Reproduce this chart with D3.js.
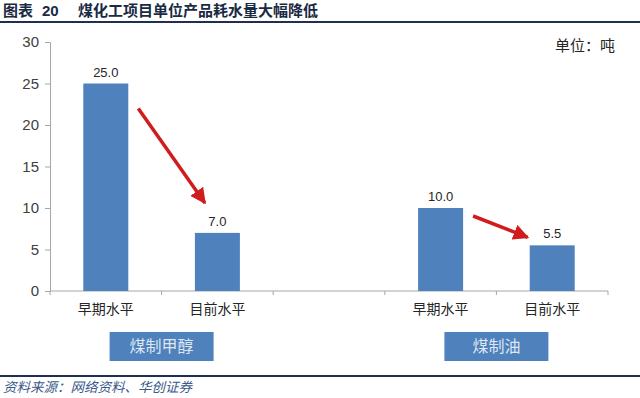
<!DOCTYPE html>
<html><head><meta charset="utf-8">
<script src="https://cdn.jsdelivr.net/npm/d3@7"></script>
<style>body{margin:0;background:#fff}svg{display:block;font-family:"Noto Sans CJK SC","Microsoft YaHei",sans-serif}</style>
</head><body><svg id="c" width="640" height="398"></svg>
<script>
const categories = ["早期水平","目前水平","","早期水平","目前水平"];
const catKeys = ["a1","a2","gap","b1","b2"];
const values = [25.0, 7.0, null, 10.0, 5.5];
const groups = [{name:"煤制甲醇", keys:["a1","a2"]},{name:"煤制油", keys:["b1","b2"]}];
const yTicks = [0,5,10,15,20,25,30];
const arrows = [["a1","a2"],["b1","b2"]];

const svg = d3.select("#c");
const W=640,H=398;
// title
const tg = svg.append("g").attr("font-weight","bold").attr("fill","#1a2a44");
tg.append("text").attr("x",3).attr("y",16).attr("font-size",15).text("图表");
tg.append("text").attr("x",42).attr("y",16).attr("font-size",15).attr("font-family","Arial, Liberation Sans, sans-serif").text("20");
tg.append("text").attr("x",78).attr("y",16).attr("font-size",15).text("煤化工项目单位产品耗水量大幅降低");
svg.append("line").attr("x1",0).attr("x2",W).attr("y1",22).attr("y2",22).attr("stroke","#1f2f4f").attr("stroke-width",2);

const x = d3.scaleBand().domain(catKeys).range([50,608]).paddingInner(0).paddingOuter(0);
const y = d3.scaleLinear().domain([0,30]).range([291,42]);

// axes
const ya = svg.append("g").attr("transform","translate(50,0)")
  .call(d3.axisLeft(y).tickValues(yTicks).tickSize(5).tickPadding(6));
ya.select(".domain").attr("stroke","#a6a6a6");
ya.selectAll(".tick line").attr("stroke","#a6a6a6");
ya.selectAll("text").attr("font-size",15).attr("fill","#404040").attr("font-family","Arial, Liberation Sans, sans-serif");

const xa = svg.append("g").attr("transform","translate(0,291)");
xa.append("line").attr("x1",50).attr("x2",608).attr("stroke","#a6a6a6");
const bounds = catKeys.map(k=>x(k)).concat([x(catKeys[catKeys.length-1])+x.bandwidth()]);
xa.selectAll("line.t").data(bounds).enter().append("line").attr("class","t")
  .attr("x1",d=>d).attr("x2",d=>d).attr("y1",0).attr("y2",4).attr("stroke","#a6a6a6");
xa.selectAll("text").data(catKeys).enter().append("text")
  .attr("x",d=>x(d)+x.bandwidth()/2).attr("y",23).attr("text-anchor","middle")
  .attr("font-size",14).attr("fill","#262626").text((d,i)=>categories[i]);

// bars
const bw = 45;
const data = catKeys.map((k,i)=>({k,v:values[i]})).filter(d=>d.v!=null);
svg.selectAll("rect.bar").data(data).enter().append("rect").attr("class","bar")
  .attr("x",d=>x(d.k)+x.bandwidth()/2-bw/2).attr("width",bw)
  .attr("y",d=>y(d.v)).attr("height",d=>y(0)-y(d.v)).attr("fill","#4f81bd");
svg.selectAll("text.val").data(data).enter().append("text").attr("class","val")
  .attr("x",d=>x(d.k)+x.bandwidth()/2).attr("y",d=>y(d.v)-7).attr("text-anchor","middle")
  .attr("font-size",13).attr("fill","#262626").attr("font-family","Arial, Liberation Sans, sans-serif")
  .text(d=>d.v.toFixed(1));

// unit
svg.append("text").attr("x",615).attr("y",51).attr("text-anchor","end").attr("font-size",15).attr("fill","#262626").text("单位：吨");

// group boxes
groups.forEach(g=>{
  const cx = (x(g.keys[0])+x(g.keys[1])+x.bandwidth())/2;
  svg.append("rect").attr("x",cx-52).attr("y",332).attr("width",104).attr("height",29).attr("fill","#4f81bd");
  svg.append("text").attr("x",cx).attr("y",352).attr("text-anchor","middle").attr("font-size",16)
    .attr("fill","#dde6f2").text(g.name);
});

// arrows
const defs = svg.append("defs");
defs.append("marker").attr("id","ah").attr("viewBox","0 0 10 10").attr("refX",9).attr("refY",5)
  .attr("markerWidth",4.5).attr("markerHeight",4.5).attr("orient","auto")
  .append("path").attr("d","M0,0 L10,5 L0,10 z").attr("fill","#d01c1c");
const v = {}; data.forEach(d=>v[d.k]=d.v);
arrows.forEach(([a,b])=>{
  const xa0 = x(a)+x.bandwidth()/2+bw/2+10, ya0 = y(v[a])+(v[a]>20?25:8);
  const xb = x(b)+x.bandwidth()/2-bw/2+ (v[a]>20?10:-2), yb = y(v[b])-(v[a]>20?30:8);
  svg.append("line").attr("x1",xa0).attr("y1",ya0).attr("x2",xb).attr("y2",yb)
    .attr("stroke","#d01c1c").attr("stroke-width",3.5).attr("marker-end","url(#ah)");
});

// source
svg.append("line").attr("x1",0).attr("x2",W).attr("y1",376).attr("y2",376).attr("stroke","#1f2f4f").attr("stroke-width",2);
svg.append("text").attr("x",3).attr("y",392).attr("font-size",13.5).attr("font-style","italic").attr("fill","#3a5a8a")
  .text("资料来源：网络资料、华创证券");
</script></body></html>
